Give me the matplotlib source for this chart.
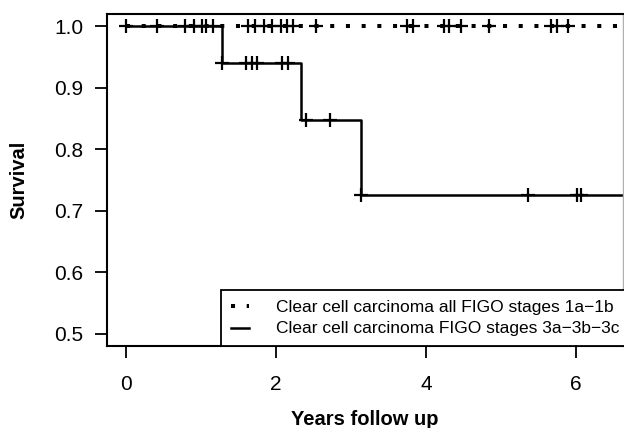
import matplotlib
matplotlib.use('Agg')
import matplotlib.pyplot as plt
import numpy as np

#------------------------------
# survival data
#------------------------------

followup_end = 6.8

# clear cell carcinoma, FIGO 1a-1b: no events
surv_a_time = [0.0, followup_end]
surv_a_prob = [1.0, 1.0]
cens_a = [0.0, 0.41, 0.79, 0.90, 1.01, 1.07, 1.16,
          1.63, 1.72, 1.84, 1.94, 2.06, 2.14, 2.22, 2.53,
          3.75, 3.82, 4.24, 4.31, 4.47, 4.84, 5.67, 5.74, 5.89]

# clear cell carcinoma, FIGO 3a-3b-3c
surv_b_time = [0.0, 1.276, 2.33, 3.13, followup_end]
surv_b_prob = [1.0, 0.941, 0.847, 0.726, 0.726]
cens_b = [1.276, 1.60, 1.676, 1.75, 2.08, 2.16, 2.40, 2.72,
          3.13, 5.36, 6.01, 6.06]

labels = ['Clear cell carcinoma all FIGO stages 1a\u22121b',
          'Clear cell carcinoma FIGO stages 3a\u22123b\u22123c']


def surv_at(times, probs, t):
    idx = np.searchsorted(times, t, side='right') - 1
    return np.asarray(probs)[idx]


plt.rcParams['font.family'] = ['Liberation Sans', 'DejaVu Sans']

fig = plt.figure(figsize=(6.24, 4.28), dpi=100)
ax = fig.add_axes([107/624, 82/428, 516.5/624, 332/428])

# dotted group
ax.step(surv_a_time, surv_a_prob, where='post', color='black', lw=2.9,
        dashes=(1.0, 2.9), dash_capstyle='butt', label=labels[0])
ax.plot(cens_a, surv_at(surv_a_time, surv_a_prob, cens_a), ls='none',
        marker='+', ms=10, mew=1.6, color='black')

# solid group
ax.step(surv_b_time, surv_b_prob, where='post', color='black', lw=1.8,
        label=labels[1])
ax.plot(cens_b, surv_at(surv_b_time, surv_b_prob, cens_b), ls='none',
        marker='+', ms=10, mew=1.6, color='black')

ax.set_xlim(-0.256, 6.63)
ax.set_ylim(0.48, 1.02)
ax.set_xticks([0, 2, 4, 6])
ax.set_yticks([0.5, 0.6, 0.7, 0.8, 0.9, 1.0])
ax.set_yticklabels(['0.5', '0.6', '0.7', '0.8', '0.9', '1.0'])
ax.tick_params(axis='both', direction='out', length=8.6, width=1.3,
               labelsize=15)
ax.tick_params(axis='x', pad=12.5)
ax.tick_params(axis='y', pad=8.5)
for s in ['left', 'top', 'bottom']:
    ax.spines[s].set_linewidth(1.5)
ax.spines['right'].set_linewidth(1.0)
ax.spines['right'].set_color('#b0b0b0')

ax.set_xlabel('Years follow up', fontsize=14.5, fontweight='bold', va='center')
ax.xaxis.set_label_coords(0.5, -0.222)
ax.set_ylabel('Survival', fontsize=14.5, fontweight='bold', va='center')
ax.yaxis.set_label_coords(-0.171, 0.5)

leg = ax.legend(loc='lower left', bbox_to_anchor=((221-107)/516.5, 0.0),
                borderaxespad=0, fontsize=12.5, frameon=True, fancybox=False,
                handlelength=1.05, handletextpad=1.55, borderpad=0.55,
                labelspacing=0.4, handleheight=0.6)
leg.get_frame().set_edgecolor('black')
leg.get_frame().set_linewidth(1.3)
leg.get_frame().set_alpha(1.0)

fig.savefig('out.png', dpi=100)
